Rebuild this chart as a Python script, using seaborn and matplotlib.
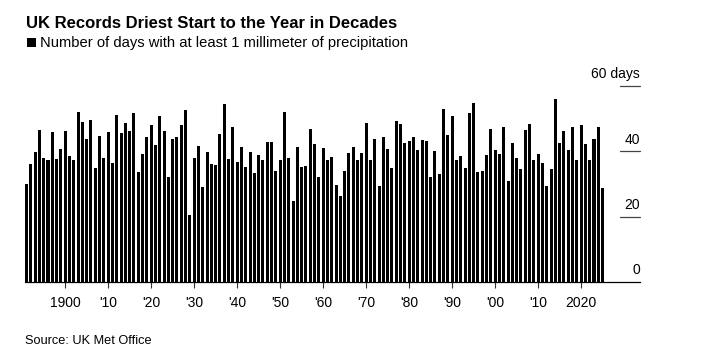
import matplotlib.pyplot as plt
import matplotlib.patches as patches
import seaborn as sns
import pandas as pd

# Spring rain days (>= 1 mm), UK, 1891-2025
years = list(range(1891, 2026))
rain_days = [
    30.1, 36.2, 39.7, 46.6, 38.1, 37.3, 45.9, 37.8, 40.8,              # 1891-1899
    46.3, 38.7, 37.3, 51.9, 48.9, 43.9, 49.7, 34.8, 44.6, 38.0,        # 1900s
    45.8, 36.5, 51.1, 45.6, 48.6, 46.1, 51.8, 33.8, 39.2, 44.3,        # 1910s
    48.1, 41.8, 50.8, 46.3, 32.1, 43.8, 44.5, 48.2, 52.8, 20.6,        # 1920s
    37.9, 41.7, 29.0, 39.7, 36.0, 35.8, 45.2, 54.6, 37.7, 47.5,        # 1930s
    36.8, 41.4, 35.3, 39.7, 33.3, 38.8, 37.2, 43.0, 42.8, 34.1,        # 1940s
    37.4, 51.9, 38.0, 24.9, 41.2, 35.2, 35.4, 46.9, 42.3, 32.0,        # 1950s
    41.1, 37.5, 38.2, 29.6, 26.2, 34.0, 39.5, 41.2, 37.2, 39.4,        # 1960s
    48.7, 37.3, 43.7, 29.5, 44.5, 40.8, 34.8, 49.3, 48.3, 42.4,        # 1970s
    43.2, 44.3, 40.5, 43.6, 43.3, 32.0, 40.2, 33.0, 53.1, 45.0,        # 1980s
    50.9, 37.3, 38.7, 35.0, 51.8, 54.9, 33.6, 33.9, 38.8, 46.8,        # 1990s
    40.5, 39.1, 47.4, 30.8, 42.6, 38.1, 34.7, 46.6, 48.4, 37.2,        # 2000s
    39.1, 36.5, 29.5, 34.6, 55.9, 42.4, 46.3, 40.5, 47.5, 37.2,        # 2010s
    48.1, 42.1, 37.2, 43.7, 47.4, 28.9,                                # 2020s
]
tick_years = list(range(1900, 2021, 10))
tick_labels = ["1900", "'10", "'20", "'30", "'40", "'50", "'60",
               "'70", "'80", "'90", "'00", "'10", "2020"]
y_ticks = [0, 20, 40, 60]
y_labels = ["0", "20", "40", "60 days"]

sns.set_theme(style="white")
plt.rcParams['font.family'] = ['Liberation Sans', 'DejaVu Sans']

df = pd.DataFrame({"year": years, "days": rain_days})

W, H = 701, 360
fig = plt.figure(figsize=(W / 100, H / 100), dpi=100)
ax = fig.add_axes([25 / W, 1 - 282 / H, 615 / W, 196 / H])

sns.barplot(data=df, x="year", y="days", native_scale=True, color="black",
            saturation=1, width=0.7, edgecolor="none", ax=ax)
ax.set_xlim(1890.65, 2033.7)
ax.set_ylim(0, 60)
ax.set_xlabel("")
ax.set_ylabel("")
ax.set_yticks([])

# y labels sit above short stubs on the right
ytrans = ax.get_yaxis_transform()
for v, lab in zip(y_ticks, y_labels):
    ax.annotate(lab, xy=(1, v), xycoords=ytrans, xytext=(0, 5.5),
                textcoords="offset points", ha="right", va="baseline",
                fontsize=10, color="black", annotation_clip=False)
    if v > 0:
        ax.plot([0.9675, 1], [v, v], transform=ytrans, color="#444444",
                lw=0.9, clip_on=False)

ax.set_xticks(tick_years, tick_labels)
ax.tick_params(axis="x", bottom=True, length=4.3, width=0.8, color="#333333",
               pad=6, labelsize=10, labelcolor="black")

for s in ["left", "right", "top"]:
    ax.spines[s].set_visible(False)
ax.spines["bottom"].set_color("black")
ax.spines["bottom"].set_linewidth(0.9)

fig.text(26 / W, 1 - 28 / H, "UK Records Driest Start to the Year in Decades",
         fontsize=12, fontweight="bold", va="baseline", color="black")
fig.patches.append(patches.Rectangle((27 / W, 1 - 47 / H), 8.5 / W, 8.5 / H,
                                     transform=fig.transFigure,
                                     color="black", lw=0))
fig.text(40 / W, 1 - 47 / H,
         "Number of days with at least 1 millimeter of precipitation",
         fontsize=10.6, va="baseline", color="black")
fig.text(25 / W, 1 - 344 / H, "Source: UK Met Office",
         fontsize=9.2, va="baseline", color="black")

fig.savefig("out.png", dpi=100)
